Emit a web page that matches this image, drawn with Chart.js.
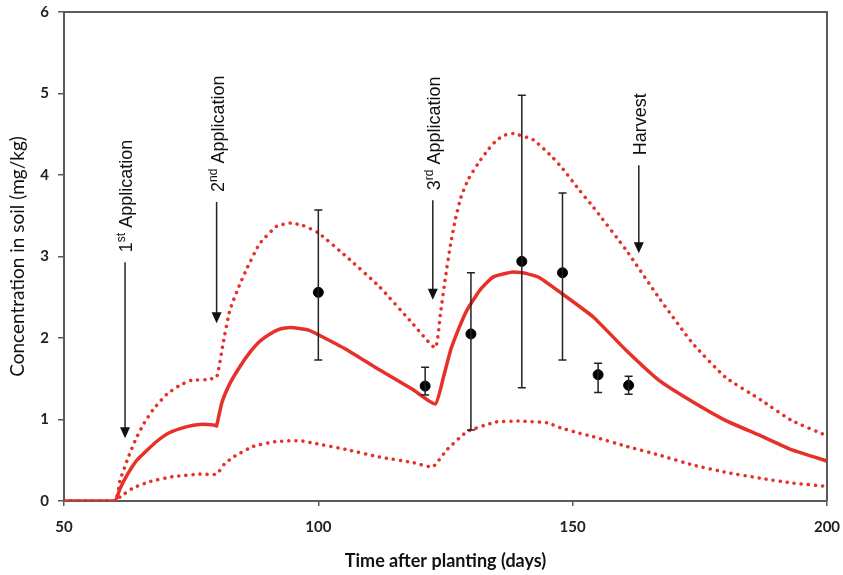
<!DOCTYPE html>
<html>
<head>
<meta charset="utf-8">
<script src="https://cdn.jsdelivr.net/npm/chart.js@4.4.1/dist/chart.umd.min.js"></script>
<style>
  html, body { margin: 0; padding: 0; background: #ffffff; }
  #wrap { width: 843px; height: 575px; position: relative; }
</style>
</head>
<body>
<div id="wrap"><canvas id="c" width="843" height="575"></canvas></div>
<script>
// ---- Data ----
const meanX = [50, 60, 61, 62.5, 64.3, 65.6, 68.2, 70.8, 74, 76.7, 79.7, 80, 81, 82.6, 84.6, 86.5, 88.5, 90.5, 92.5, 94.5, 98, 100, 105.5, 112, 118.5, 123, 124.6, 126, 127.5, 129.2, 131.8, 134.4, 138.3, 141, 143.5, 148, 154, 160.5, 167, 173.5, 180, 187, 193, 200];
const meanY = [0, 0, 0.15, 0.33, 0.50, 0.58, 0.73, 0.84, 0.91, 0.94, 0.93, 0.92, 1.20, 1.44, 1.65, 1.82, 1.96, 2.05, 2.11, 2.13, 2.10, 2.04, 1.86, 1.61, 1.37, 1.19, 1.52, 1.85, 2.10, 2.34, 2.59, 2.75, 2.81, 2.79, 2.74, 2.54, 2.26, 1.85, 1.48, 1.22, 0.99, 0.80, 0.63, 0.49];

const upperX = [50, 60, 61, 62.6, 64.2, 65.8, 67.5, 70.2, 72.5, 75, 78, 80, 81.3, 82.6, 84.3, 86, 88.5, 91.8, 94.5, 97, 100, 105.5, 112, 118.5, 123, 124, 125, 126, 127, 128, 129.5, 131.5, 133.5, 135.1, 136.7, 138.3, 142.3, 146, 148, 151.5, 154, 160.5, 167, 173.5, 180, 187, 193, 200];
const upperY = [0, 0, 0.25, 0.53, 0.77, 0.96, 1.12, 1.31, 1.41, 1.48, 1.49, 1.52, 1.94, 2.34, 2.62, 2.86, 3.16, 3.37, 3.41, 3.38, 3.29, 3.00, 2.63, 2.18, 1.88, 2.30, 2.75, 3.15, 3.47, 3.72, 3.95, 4.15, 4.32, 4.43, 4.49, 4.51, 4.43, 4.22, 4.08, 3.80, 3.61, 3.08, 2.49, 1.94, 1.52, 1.24, 0.99, 0.80];

const lowerX = [50, 60, 61, 63.6, 67, 71.5, 76.7, 80, 81.5, 83.3, 87.2, 91.8, 96.4, 99, 105.6, 112, 118.7, 122.5, 125.3, 129.2, 135, 139.6, 145, 147.5, 151.4, 154, 160.6, 167.2, 173.7, 180.3, 186.8, 193.3, 200];
const lowerY = [0, 0, 0.05, 0.16, 0.24, 0.30, 0.33, 0.33, 0.45, 0.54, 0.67, 0.73, 0.74, 0.71, 0.63, 0.54, 0.47, 0.42, 0.63, 0.85, 0.97, 0.98, 0.96, 0.90, 0.83, 0.79, 0.67, 0.56, 0.44, 0.35, 0.28, 0.22, 0.18];

const obsX  = [100, 121, 130, 140, 148, 155, 161];
const obsY  = [2.56, 1.41, 2.05, 2.94, 2.80, 1.55, 1.42];
const obsHi = [3.57, 1.64, 2.80, 4.98, 3.78, 1.69, 1.53];
const obsLo = [1.73, 1.30, 0.87, 1.39, 1.73, 1.33, 1.31];

const arrowX    = [62, 80, 122.5, 163];
const arrowTop  = [2.93, 3.67, 3.69, 4.12];
const arrowTip  = [0.77, 2.18, 2.47, 3.04];
const labelMain = ['1', '2', '3', 'Harvest'];
const labelSup  = ['st', 'nd', 'rd', ''];
const labelRest = [' Application', ' Application', ' Application', ''];

const xTicks = [50, 100, 150, 200];
const yTicks = [0, 1, 2, 3, 4, 5, 6];

const RED = '#e8302a';
const AXIS = '#5a5a5a';

const pts = (xs, ys) => xs.map((x, i) => ({ x: x, y: ys[i] }));

const boxPlugin = {
  id: 'box',
  afterDraw(chart) {
    const { ctx, chartArea: a } = chart;
    ctx.save();
    ctx.strokeStyle = AXIS;
    ctx.lineWidth = 2;
    ctx.beginPath();
    ctx.moveTo(a.left, a.top);
    ctx.lineTo(a.right, a.top);
    ctx.lineTo(a.right, a.bottom);
    ctx.stroke();
    ctx.restore();
  }
};

const errPlugin = {
  id: 'errbars',
  afterDatasetsDraw(chart) {
    const { ctx, scales: { x, y } } = chart;
    ctx.save();
    ctx.strokeStyle = '#222';
    ctx.lineWidth = 1.5;
    obsX.forEach((v, i) => {
      const px = x.getPixelForValue(v);
      const ph = y.getPixelForValue(obsHi[i]);
      const pl = y.getPixelForValue(obsLo[i]);
      ctx.beginPath();
      ctx.moveTo(px, ph); ctx.lineTo(px, pl);
      ctx.moveTo(px - 4, ph); ctx.lineTo(px + 4, ph);
      ctx.moveTo(px - 4, pl); ctx.lineTo(px + 4, pl);
      ctx.stroke();
    });
    ctx.restore();
  }
};

const arrowPlugin = {
  id: 'arrows',
  afterDraw(chart) {
    const { ctx, scales: { x, y } } = chart;
    ctx.save();
    arrowX.forEach((v, i) => {
      const px = x.getPixelForValue(v);
      const pt = y.getPixelForValue(arrowTop[i]);
      const pb = y.getPixelForValue(arrowTip[i]);
      ctx.strokeStyle = '#222';
      ctx.fillStyle = '#111';
      ctx.lineWidth = 1.5;
      ctx.beginPath();
      ctx.moveTo(px, pt); ctx.lineTo(px, pb - 9);
      ctx.stroke();
      ctx.beginPath();
      ctx.moveTo(px - 5, pb - 11);
      ctx.lineTo(px + 5, pb - 11);
      ctx.lineTo(px, pb);
      ctx.closePath();
      ctx.fill();
      // rotated label
      ctx.save();
      ctx.translate(px + 2, pt - 10);
      ctx.rotate(-Math.PI / 2);
      ctx.textBaseline = 'middle';
      ctx.textAlign = 'left';
      let cx = 0;
      ctx.font = '18px "Liberation Sans", Arial, sans-serif';
      ctx.fillText(labelMain[i], cx, 0);
      cx += ctx.measureText(labelMain[i]).width;
      if (labelSup[i]) {
        ctx.font = '12px "Liberation Sans", Arial, sans-serif';
        ctx.fillText(labelSup[i], cx, -5);
        cx += ctx.measureText(labelSup[i]).width;
      }
      ctx.font = '18px "Liberation Sans", Arial, sans-serif';
      ctx.fillText(labelRest[i], cx, 0);
      ctx.restore();
    });
    ctx.restore();
  }
};

new Chart(document.getElementById('c'), {
  type: 'line',
  data: {
    datasets: [
      { label: 'Upper', data: pts(upperX, upperY), borderColor: RED, borderWidth: 3.5,
        borderDash: [0.1, 7], borderCapStyle: 'round', pointRadius: 0, fill: false, tension: 0.15 },
      { label: 'Lower', data: pts(lowerX, lowerY), borderColor: RED, borderWidth: 3.5,
        borderDash: [0.1, 7], borderCapStyle: 'round', pointRadius: 0, fill: false, tension: 0.15 },
      { label: 'Mean', data: pts(meanX, meanY), borderColor: RED, borderWidth: 3.5,
        pointRadius: 0, fill: false, tension: 0.15 },
      { label: 'Observed', type: 'scatter', data: pts(obsX, obsY), showLine: false,
        pointRadius: 5, pointBackgroundColor: '#000', pointBorderColor: '#000' }
    ]
  },
  options: {
    responsive: false,
    animation: false,
    layout: { padding: { top: 12, right: 16, left: 0, bottom: 0 } },
    plugins: { legend: { display: false }, tooltip: { enabled: false } },
    scales: {
      x: {
        type: 'linear', min: 50, max: 200,
        afterBuildTicks: s => { s.ticks = xTicks.map(v => ({ value: v })); },
        afterFit: s => { s.height = 74; s.paddingLeft = 0; s.paddingRight = 0; },
        grid: { drawOnChartArea: false, drawTicks: true, tickLength: 5, color: AXIS, lineWidth: 1.5 },
        border: { display: true, color: AXIS, width: 2 },
        ticks: { color: '#222', padding: 12, font: { family: 'Lato', size: 15, weight: 'bold' } },
        title: { display: true, text: 'Time after planting (days)', color: '#111',
          font: { family: 'Lato', size: 18, weight: 'bold' }, padding: { top: 0, bottom: 3 } }
      },
      y: {
        type: 'linear', min: 0, max: 6,
        afterBuildTicks: s => { s.ticks = yTicks.map(v => ({ value: v })); },
        afterFit: s => { s.width = 64; s.paddingTop = 0; s.paddingBottom = 0; },
        grid: { drawOnChartArea: false, drawTicks: true, tickLength: 6, color: AXIS, lineWidth: 1.5 },
        border: { display: true, color: AXIS, width: 2 },
        ticks: { color: '#222', padding: 9, font: { family: 'Lato', size: 15, weight: 'bold' } },
        title: { display: true, text: 'Concentration in soil (mg/kg)', color: '#111',
          font: { family: 'Lato', size: 19 }, padding: { top: 6, bottom: 0 } }
      }
    }
  },
  plugins: [boxPlugin, errPlugin, arrowPlugin]
});
</script>
</body>
</html>
